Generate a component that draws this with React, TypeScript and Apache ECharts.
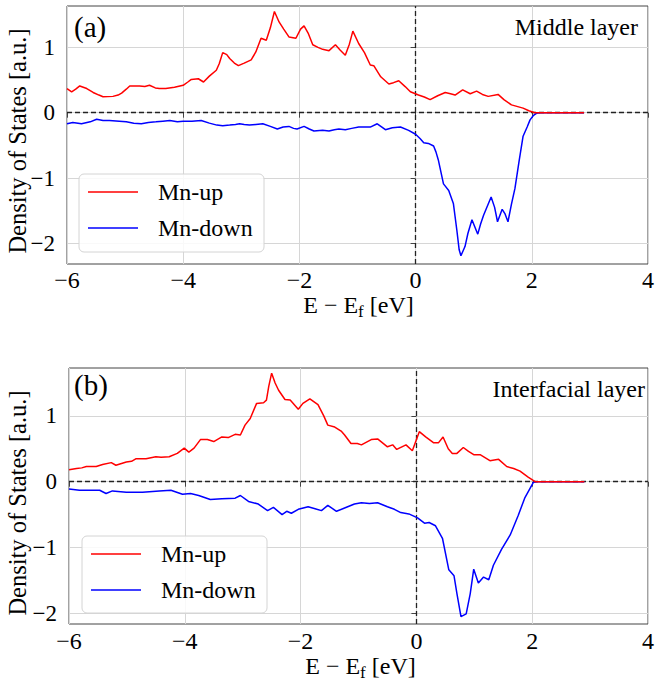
import React, { useEffect, useRef } from 'react';
import * as echarts from 'echarts';

// ---------------- data ----------------
const seriesNames = ['Mn-up', 'Mn-down'];
const panelTags = ['(a)', '(b)'];
const panelTitles = ['Middle layer', 'Interfacial layer'];
const xTicks = [-6, -4, -2, 0, 2, 4];
const yTicks = [-2, -1, 0, 1];
const xRange = [-6, 4];
const yRangeMiddle = [-2.317, 1.634];
const yRangeInterface = [-2.163, 1.728];

// [E - Ef (eV), DOS]
const mnUpMiddle: number[][] = [
  [-6.0, 0.37], [-5.92, 0.32], [-5.85, 0.36], [-5.78, 0.41], [-5.66, 0.37], [-5.55, 0.31], [-5.45, 0.27],
  [-5.38, 0.245], [-5.21, 0.25], [-5.12, 0.27], [-5.06, 0.3], [-4.98, 0.36], [-4.92, 0.41], [-4.75, 0.41],
  [-4.66, 0.4], [-4.58, 0.42], [-4.48, 0.38], [-4.41, 0.37], [-4.3, 0.37], [-4.15, 0.39], [-4.0, 0.42],
  [-3.92, 0.47], [-3.86, 0.51], [-3.74, 0.52], [-3.65, 0.47], [-3.55, 0.56], [-3.43, 0.65], [-3.38, 0.75],
  [-3.32, 0.92], [-3.25, 0.89], [-3.2, 0.83], [-3.12, 0.76], [-3.05, 0.72], [-2.95, 0.76], [-2.83, 0.81],
  [-2.75, 0.93], [-2.66, 1.14], [-2.57, 1.11], [-2.5, 1.3], [-2.43, 1.55], [-2.35, 1.39], [-2.27, 1.28],
  [-2.18, 1.16], [-2.06, 1.14], [-1.98, 1.28], [-1.92, 1.33], [-1.85, 1.22], [-1.77, 1.04], [-1.68, 1.0],
  [-1.6, 0.97], [-1.49, 0.95], [-1.38, 1.04], [-1.3, 0.96], [-1.21, 0.88], [-1.14, 1.05], [-1.08, 1.25],
  [-0.98, 1.06], [-0.88, 0.92], [-0.78, 0.73], [-0.72, 0.72], [-0.6, 0.55], [-0.46, 0.44], [-0.38, 0.46],
  [-0.29, 0.49], [-0.18, 0.4], [-0.09, 0.32], [0.05, 0.27], [0.15, 0.24], [0.25, 0.2], [0.38, 0.26],
  [0.51, 0.31], [0.6, 0.29], [0.68, 0.27], [0.81, 0.35], [0.94, 0.29], [1.05, 0.33], [1.15, 0.28],
  [1.25, 0.25], [1.42, 0.28], [1.52, 0.2], [1.65, 0.12], [1.85, 0.07], [1.95, 0.03], [2.05, 0.0], [2.9, 0.0],
];

const mnDownMiddle: number[][] = [
  [-6.0, -0.17], [-5.9, -0.15], [-5.75, -0.17], [-5.6, -0.14], [-5.49, -0.1], [-5.38, -0.12], [-5.27, -0.12],
  [-5.1, -0.13], [-4.98, -0.14], [-4.85, -0.16], [-4.72, -0.17], [-4.6, -0.15], [-4.47, -0.14], [-4.35, -0.13],
  [-4.23, -0.12], [-4.1, -0.14], [-4.0, -0.13], [-3.85, -0.13], [-3.69, -0.12], [-3.55, -0.16], [-3.42, -0.19],
  [-3.32, -0.2], [-3.2, -0.19], [-3.1, -0.18], [-3.03, -0.17], [-2.95, -0.18], [-2.86, -0.19], [-2.75, -0.18],
  [-2.63, -0.17], [-2.5, -0.21], [-2.38, -0.25], [-2.28, -0.22], [-2.18, -0.21], [-2.1, -0.24], [-2.04, -0.25],
  [-1.92, -0.21], [-1.83, -0.25], [-1.75, -0.28], [-1.6, -0.27], [-1.49, -0.28], [-1.4, -0.26], [-1.32, -0.25],
  [-1.21, -0.26], [-1.1, -0.24], [-0.98, -0.22], [-0.78, -0.22], [-0.66, -0.17], [-0.58, -0.22], [-0.52, -0.26],
  [-0.4, -0.23], [-0.26, -0.22], [-0.12, -0.27], [0.0, -0.33], [0.08, -0.4], [0.14, -0.46], [0.22, -0.47],
  [0.31, -0.51], [0.35, -0.6], [0.39, -0.72], [0.48, -1.09], [0.57, -1.19], [0.65, -1.39], [0.71, -1.8],
  [0.75, -2.1], [0.78, -2.19], [0.85, -2.05], [0.9, -1.85], [0.97, -1.64], [1.02, -1.75], [1.07, -1.86],
  [1.12, -1.7], [1.17, -1.57], [1.3, -1.29], [1.36, -1.45], [1.41, -1.67], [1.49, -1.48], [1.54, -1.55],
  [1.59, -1.67], [1.65, -1.4], [1.71, -1.16], [1.78, -0.75], [1.85, -0.36], [1.92, -0.22], [1.97, -0.11],
  [2.03, -0.04], [2.08, -0.01], [2.15, 0.0], [2.9, 0.0],
];

const mnUpInterface: number[][] = [
  [-6.0, 0.18], [-5.87, 0.2], [-5.78, 0.21], [-5.7, 0.23], [-5.53, 0.23], [-5.42, 0.26], [-5.27, 0.29],
  [-5.19, 0.25], [-5.01, 0.3], [-4.92, 0.31], [-4.84, 0.35], [-4.67, 0.35], [-4.5, 0.38], [-4.41, 0.37],
  [-4.27, 0.38], [-4.13, 0.43], [-4.01, 0.51], [-3.93, 0.45], [-3.84, 0.51], [-3.73, 0.64], [-3.61, 0.64],
  [-3.5, 0.61], [-3.36, 0.68], [-3.25, 0.67], [-3.13, 0.72], [-3.04, 0.71], [-2.96, 0.86], [-2.87, 0.96],
  [-2.76, 1.19], [-2.64, 1.2], [-2.59, 1.24], [-2.55, 1.45], [-2.5, 1.65], [-2.44, 1.5], [-2.38, 1.39],
  [-2.27, 1.25], [-2.18, 1.24], [-2.04, 1.1], [-1.96, 1.19], [-1.84, 1.26], [-1.7, 1.17], [-1.6, 1.0],
  [-1.53, 0.86], [-1.41, 0.83], [-1.3, 0.77], [-1.24, 0.71], [-1.13, 0.58], [-1.02, 0.58], [-0.95, 0.56],
  [-0.78, 0.64], [-0.67, 0.65], [-0.5, 0.53], [-0.41, 0.56], [-0.34, 0.49], [-0.18, 0.56], [-0.07, 0.47],
  [0.05, 0.76], [0.16, 0.68], [0.3, 0.59], [0.38, 0.59], [0.46, 0.68], [0.55, 0.5], [0.62, 0.43],
  [0.7, 0.43], [0.81, 0.52], [0.9, 0.46], [0.99, 0.41], [1.1, 0.41], [1.27, 0.32], [1.42, 0.34],
  [1.56, 0.23], [1.68, 0.2], [1.79, 0.16], [1.93, 0.07], [2.05, 0.0], [2.9, 0.0],
];

const mnDownInterface: number[][] = [
  [-6.0, -0.11], [-5.82, -0.13], [-5.65, -0.13], [-5.47, -0.13], [-5.36, -0.18], [-5.25, -0.14], [-5.01, -0.16],
  [-4.73, -0.16], [-4.44, -0.14], [-4.24, -0.13], [-4.04, -0.19], [-3.9, -0.18], [-3.76, -0.21], [-3.56, -0.27],
  [-3.36, -0.26], [-3.13, -0.25], [-3.04, -0.21], [-2.9, -0.3], [-2.73, -0.34], [-2.57, -0.44], [-2.47, -0.39],
  [-2.32, -0.5], [-2.24, -0.45], [-2.16, -0.48], [-2.04, -0.42], [-1.87, -0.38], [-1.75, -0.41], [-1.64, -0.44],
  [-1.53, -0.36], [-1.38, -0.45], [-1.24, -0.4], [-1.07, -0.34], [-0.95, -0.32], [-0.81, -0.33], [-0.67, -0.32],
  [-0.5, -0.38], [-0.38, -0.42], [-0.27, -0.47], [-0.13, -0.49], [0.02, -0.55], [0.14, -0.63], [0.22, -0.62],
  [0.33, -0.67], [0.45, -0.86], [0.56, -1.34], [0.65, -1.43], [0.7, -1.7], [0.77, -2.05], [0.86, -2.01],
  [0.93, -1.7], [0.99, -1.33], [1.07, -1.54], [1.16, -1.45], [1.25, -1.49], [1.33, -1.27], [1.47, -1.03],
  [1.62, -0.81], [1.76, -0.51], [1.87, -0.25], [2.02, -0.01], [2.1, 0.0], [2.9, 0.0],
];

// ---------------- styling / layout ----------------
const FONT = 'Liberation Serif';
const UP_COLOR = '#ff0000';
const DOWN_COLOR = '#0000ff';
const FRAME = '#444444';
const GRID_LINE = '#d6d6d6';

const panels = [
  {
    grid: { left: 67, top: 6, width: 583, height: 258 },
    xLabelMargin: 4,
    tag: { x: 74, y: 27 },
    title: { x: 638, y: 27 },
    xName: { x: 358.5, y: 305 },
    yName: { x: 17, y: 141 },
    legend: { x: 79, y: 174, w: 185, h: 78 },
  },
  {
    grid: { left: 69, top: 368, width: 583, height: 256 },
    xLabelMargin: 5,
    tag: { x: 74, y: 385 },
    title: { x: 645, y: 388.5 },
    xName: { x: 360.5, y: 666 },
    yName: { x: 17, y: 503 },
    legend: { x: 82, y: 536, w: 185, h: 77 },
  },
];

const fmt = (v: number) => (v < 0 ? '\u2212' + Math.abs(v) : String(v));

function buildOption() {
  const yRanges = [yRangeMiddle, yRangeInterface];
  const dataSets = [
    [mnUpMiddle, mnDownMiddle],
    [mnUpInterface, mnDownInterface],
  ];
  const colors = [UP_COLOR, DOWN_COLOR];

  const grid = panels.map((p) => ({
    ...p.grid,
    show: true,
    borderColor: FRAME,
    borderWidth: 1,
    backgroundColor: 'transparent',
    containLabel: false,
  }));

  const xAxis = panels.map((p, i) => ({
    type: 'value',
    gridIndex: i,
    min: xRange[0],
    max: xRange[1],
    interval: 2,
    axisLine: { show: false },
    axisTick: { show: true, length: 5, inside: false, lineStyle: { color: FRAME, width: 1 } },
    axisLabel: {
      show: true,
      margin: p.xLabelMargin,
      fontFamily: FONT,
      fontSize: 24,
      color: '#000',
      formatter: fmt,
      customValues: xTicks,
    },
    splitLine: { show: true, lineStyle: { color: GRID_LINE, width: 1 } },
  }));

  const yAxis = panels.map((p, i) => ({
    type: 'value',
    gridIndex: i,
    min: yRanges[i][0],
    max: yRanges[i][1],
    axisLine: { show: false },
    axisTick: { show: true, length: 5, customValues: yTicks, lineStyle: { color: FRAME, width: 1 } },
    axisLabel: {
      show: true,
      margin: 12,
      fontFamily: FONT,
      fontSize: 23,
      color: '#000',
      formatter: fmt,
      customValues: yTicks,
    },
    splitLine: { show: true, lineStyle: { color: GRID_LINE, width: 1 } },
  }));

  const series: any[] = [];
  dataSets.forEach((pair, i) => {
    pair.forEach((data, j) => {
      const s: any = {
        name: seriesNames[j],
        type: 'line',
        xAxisIndex: i,
        yAxisIndex: i,
        data,
        symbol: 'none',
        showSymbol: false,
        smooth: false,
        lineStyle: { color: colors[j], width: 1.5 },
        itemStyle: { color: colors[j] },
        z: 5 - j,
      };
      if (j === 0) {
        s.markLine = {
          silent: true,
          symbol: ['none', 'none'],
          label: { show: false },
          lineStyle: { color: '#222', type: [5, 3], width: 1.3 },
          data: [{ yAxis: 0 }, { xAxis: 0 }],
          z: 3,
        };
      }
      series.push(s);
    });
  });

  const graphic: any[] = [];
  panels.forEach((p, i) => {
    graphic.push({
      type: 'text',
      x: p.tag.x,
      y: p.tag.y,
      z: 50,
      style: { text: panelTags[i], fontFamily: FONT, fontSize: 29, fill: '#000', align: 'left', verticalAlign: 'middle' },
    });
    graphic.push({
      type: 'text',
      x: p.title.x,
      y: p.title.y,
      z: 50,
      style: { text: panelTitles[i], fontFamily: FONT, fontSize: 24, fill: '#000', align: 'right', verticalAlign: 'middle' },
    });
    graphic.push({
      type: 'text',
      x: p.yName.x,
      y: p.yName.y,
      rotation: Math.PI / 2,
      z: 50,
      style: {
        text: 'Density of States [a.u.]',
        fontFamily: FONT,
        fontSize: 24.5,
        fill: '#000',
        align: 'center',
        verticalAlign: 'middle',
      },
    });
    graphic.push({
      type: 'text',
      x: p.xName.x,
      y: p.xName.y,
      z: 50,
      style: {
        text: '{m|E \u2212 E}{s|f}{m| [eV]}',
        fontFamily: FONT,
        fill: '#000',
        align: 'center',
        verticalAlign: 'middle',
        rich: {
          m: { fontFamily: FONT, fontSize: 24, lineHeight: 30, fill: '#000', verticalAlign: 'middle' },
          s: { fontFamily: FONT, fontSize: 17, lineHeight: 17, fill: '#000', verticalAlign: 'bottom' },
        },
      },
    });
    // legend
    const L = p.legend;
    graphic.push({
      type: 'rect',
      z: 60,
      shape: { x: L.x, y: L.y, width: L.w, height: L.h, r: 5 },
      style: { fill: 'rgba(255,255,255,0.85)', stroke: '#d4d4d4', lineWidth: 1 },
    });
    const rows = [L.y + 18, L.y + 54];
    seriesNames.forEach((nm, j) => {
      graphic.push({
        type: 'line',
        z: 61,
        shape: { x1: L.x + 9, y1: rows[j], x2: L.x + 59, y2: rows[j] },
        style: { stroke: colors[j], lineWidth: 1.5 },
      });
      graphic.push({
        type: 'text',
        z: 61,
        x: L.x + 79,
        y: rows[j],
        style: { text: nm, fontFamily: FONT, fontSize: 24, fill: '#000', align: 'left', verticalAlign: 'middle' },
      });
    });
  });

  return {
    animation: false,
    backgroundColor: '#ffffff',
    textStyle: { fontFamily: FONT },
    grid,
    xAxis,
    yAxis,
    series,
    graphic,
  };
}

export default function App() {
  const ref = useRef<HTMLDivElement>(null);
  useEffect(() => {
    if (!ref.current) return;
    const chart = echarts.init(ref.current, undefined, { renderer: 'svg' });
    chart.setOption(buildOption() as any);
    return () => chart.dispose();
  }, []);
  return (
    <div
      ref={ref}
      style={{ position: 'fixed', left: 0, top: 0, width: 657, height: 683, background: '#fff' }}
    />
  );
}
